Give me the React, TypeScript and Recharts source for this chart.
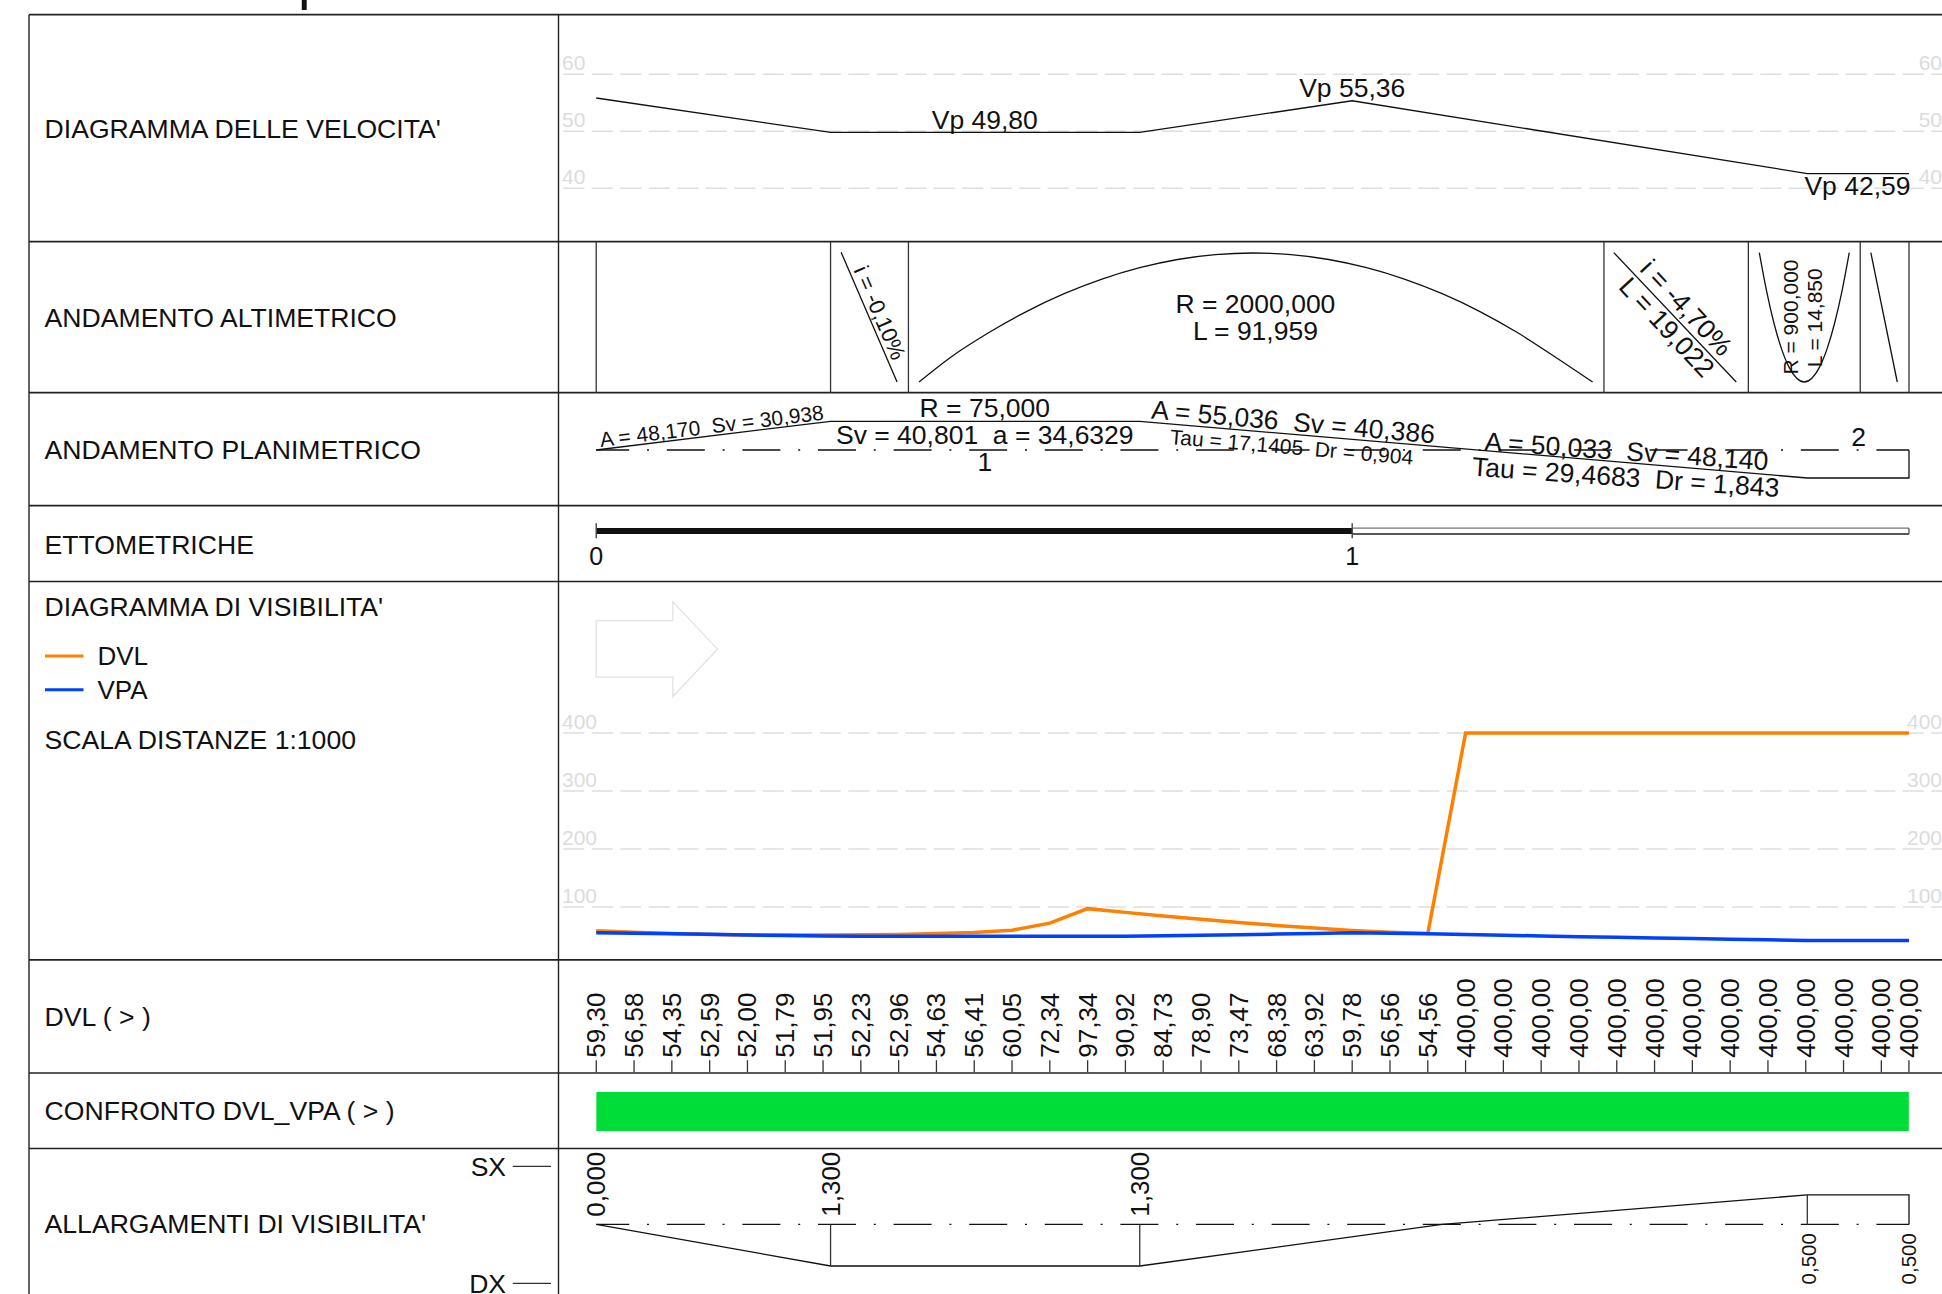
import React from "react";
import {
  Area,
  CartesianGrid,
  ComposedChart,
  Legend,
  Line,
  ReferenceDot,
  ReferenceLine,
  XAxis,
  YAxis,
} from "recharts";

const progressive = [0,5,10,15,20,25,30,35,40,45,50,55,60,65,70,75,80,85,90,95,100,105,110,115,120,125,130,135,140,145,150,155,160,165,170,173.65];
const dvlValues = [59.3,56.58,54.35,52.59,52,51.79,51.95,52.23,52.96,54.63,56.41,60.05,72.34,97.34,90.92,84.73,78.9,73.47,68.38,63.92,59.78,56.56,54.56,400,400,400,400,400,400,400,400,400,400,400,400,400];
const vpaValues = [56,55,54,53,52,51,50,49.8,49.8,49.8,49.8,49.8,49.8,49.8,49.8,50.5,51.5,52.5,53.5,54.5,56,55,54,52.8,51.5,50.3,49,47.9,46.8,45.8,44.7,43.7,42.6,42.6,42.6,42.6];
const dvlLabels = ["59,30","56,58","54,35","52,59","52,00","51,79","51,95","52,23","52,96","54,63","56,41","60,05","72,34","97,34","90,92","84,73","78,90","73,47","68,38","63,92","59,78","56,56","54,56","400,00","400,00","400,00","400,00","400,00","400,00","400,00","400,00","400,00","400,00","400,00","400,00","400,00"];
const confrontoValues = progressive.map(() => 1);
const legendNames = ["DVL", "VPA"];

const speedX = [0,31,71.9,100,160.2,173.65];
const speedV = [55.84,49.8,49.8,55.36,42.59,42.59];
const speedTicks = [40,50,60];
const visibilityTicks = [100,200,300,400];

const gradeBreaks = [0,31,41.3,133.3,152.4,167.2,173.65];
const gradeAX = [32.4,39.8];
const gradeAV = [140.7,11];
const crestX = [42.7,46.9,51.9,56.9,61.9,66.9,71.9,76.9,81.9,86.9,91.9,96.9,101.9,106.9,111.9,116.9,121.9,126.9,131.8];
const crestV = [11,35.8,60.2,81.4,99.3,113.9,125.3,133.5,138.4,140,138.4,133.5,125.3,113.9,99.3,81.4,60.2,35.8,11];
const gradeBX = [134.6,150.8];
const gradeBV = [140.4,11];
const sagX = [153.85,154.8,155.8,156.8,157.8,158.8,159.8,160.8,161.8,162.8,163.8,164.8,165.75];
const sagV = [140.4,102.4,69.5,43.9,25.6,14.7,11,14.7,25.6,43.9,69.5,102.4,140.4];
const gradeCX = [168.6,172.1];
const gradeCV = [140.4,11];

const planX = [0,31,71.9,160.2,173.65,173.65];
const planV = [56,84.7,84.7,28,28,56];
const axisX = [0,173.65];
const planAxisV = [56,56];

const hectoSolidX = [0,100];
const hectoOpenX = [100,173.65];
const hectoLabels = ["0","1"];

const widenX = [0,31,71.9,111.9,160.2,173.65,173.65];
const widenV = [70.1,28.5,28.5,70.1,99.6,99.6,70.1];
const widenAxisV = [70.1,70.1];

const arrowX = [0,10.14,10.14,16.04,10.14,10.14,0,0];
const arrowV = [593.8,593.8,626.2,544.7,463.1,496.5,496.5,593.8];

const rowTitles = ["DIAGRAMMA DELLE VELOCITA'","ANDAMENTO ALTIMETRICO","ANDAMENTO PLANIMETRICO","ETTOMETRICHE","DIAGRAMMA DI VISIBILITA'","SCALA DISTANZE 1:1000","DVL ( > )","CONFRONTO DVL_VPA ( > )","ALLARGAMENTI DI VISIBILITA'"];
const rowEdges = [14.7,241.7,392.7,505.7,581.5,959.8,1073,1148.5];
const columnEdges = [29,558.5];
const pageX = [0,1942];
const pageY = [0,1294];

const FONT = "'Liberation Sans', Arial, sans-serif";
const INK = "#111";
const GRID = "#dedede";
const ORANGE = "#ff8000";
const BLUE = "#0040ff";
const GREEN = "#00dd38";
const DASH_DOT = "38 17.8 2 17.8";
const zip = (xs: number[], vs: number[]) => xs.map((x, i) => ({ x, v: vs[i] }));

type NoteArgs = { x: number; y: number; text: string; size?: number; angle?: number; anchor?: string; central?: boolean; yAxisId?: string };
const note = ({ x, y, text, size = 26.5, angle = 0, anchor = "middle", central = false, yAxisId }: NoteArgs) => (
  <ReferenceDot
    key={`${text}-${x}-${y}`}
    x={x}
    y={y}
    r={0}
    ifOverflow="visible"
    {...(yAxisId ? { yAxisId } : {})}
    shape={(p: any) => (
      <text
        x={p.cx}
        y={p.cy}
        fontFamily={FONT}
        fontSize={size}
        fill={INK}
        textAnchor={anchor as any}
        dominantBaseline={central ? "central" : undefined}
        transform={angle ? `rotate(${angle} ${p.cx} ${p.cy})` : undefined}
        style={{ whiteSpace: "pre" }}
      >
        {text}
      </text>
    )}
  />
);

const trace = (key: string, xs: number[], vs: number[], extra: any = {}) => (
  <Line
    key={key}
    data={zip(xs, vs)}
    dataKey="v"
    stroke={INK}
    strokeWidth={1.3}
    dot={false}
    activeDot={false}
    isAnimationActive={false}
    legendType="none"
    {...extra}
  />
);

const xBase = { type: "number" as const, dataKey: "x", domain: [-4.9206, 178.082], allowDataOverflow: true };

const Strip = ({ top, height, y, xAxis, axes, children }: any) => (
  <div style={{ position: "absolute", left: 558.5, top, width: 1383.5, height }}>
    <ComposedChart width={1383.5} height={height} margin={{ top: 0, right: 0, bottom: 0, left: 0 }}>
      {xAxis ?? <XAxis {...xBase} hide />}
      {axes ?? <YAxis type="number" domain={y} hide allowDataOverflow />}
      {children}
    </ComposedChart>
  </div>
);

const scaleTick = (side: "left" | "right") => (p: any) => (
  <text
    x={side === "left" ? 3 : 1383}
    y={p.y - 4}
    fontFamily={FONT}
    fontSize={21}
    fill="#dcdcdc"
    textAnchor={side === "left" ? "start" : "end"}
  >
    {p.payload.value}
  </text>
);

const scaleAxes = (y: number[], ticks: number[]) => (
  <>
    <YAxis yAxisId="l" type="number" domain={y} ticks={ticks} interval={0} mirror width={1} axisLine={false} tickLine={false} allowDataOverflow tick={scaleTick("left")} />
    <YAxis yAxisId="r" orientation="right" type="number" domain={y} ticks={ticks} interval={0} mirror width={1} axisLine={false} tickLine={false} allowDataOverflow tick={scaleTick("right")} />
  </>
);

const DvlTick = (p: any) => {
  const i = progressive.indexOf(p.payload.value);
  return (
    <text
      x={p.x}
      y={p.y}
      fontFamily={FONT}
      fontSize={26}
      fill={INK}
      textAnchor="start"
      dominantBaseline="central"
      transform={`rotate(-90 ${p.x} ${p.y})`}
    >
      {dvlLabels[i]}
    </text>
  );
};

const LegendBody = ({ payload }: any) => (
  <svg width={220} height={70} style={{ overflow: "visible", display: "block" }}>
    {(payload ?? [])
      .filter((item: any) => legendNames.includes(item.value))
      .map((item: any, i: number) => (
        <g key={item.value} transform={`translate(0 ${14 + i * 33.7})`}>
          <line x1={0} x2={38.5} y1={0} y2={0} stroke={item.color} strokeWidth={3} />
          <text x={52.4} y={9.4} fontFamily={FONT} fontSize={26} fill={INK}>
            {item.value}
          </text>
        </g>
      ))}
  </svg>
);

export default function App() {
  return (
    <div style={{ position: "absolute", left: 0, top: 0, width: 1942, height: 1294, overflow: "hidden", background: "#fff" }}>
      <div style={{ position: "absolute", left: 0, top: 0 }}>
        <ComposedChart width={1942} height={1294} margin={{ top: 0, right: 0, bottom: 0, left: 0 }}>
          <XAxis type="number" dataKey="x" domain={pageX} hide allowDataOverflow />
          <YAxis type="number" domain={pageY} reversed hide allowDataOverflow />
          {trace("page", pageX, pageY, { stroke: "none" })}
          {rowEdges.map((e) => (
            <ReferenceLine key={`r${e}`} segment={[{ x: 29, y: e }, { x: 1942, y: e }]} stroke="#222" strokeWidth={1.7} ifOverflow="visible" />
          ))}
          {columnEdges.map((e) => (
            <ReferenceLine key={`c${e}`} segment={[{ x: e, y: 14.7 }, { x: e, y: 1294 }]} stroke="#222" strokeWidth={1.4} ifOverflow="visible" />
          ))}
          <ReferenceLine segment={[{ x: 512.7, y: 1166.3 }, { x: 551, y: 1166.3 }]} stroke="#333" strokeWidth={1.3} ifOverflow="visible" />
          <ReferenceLine segment={[{ x: 512.7, y: 1283.3 }, { x: 551, y: 1283.3 }]} stroke="#333" strokeWidth={1.3} ifOverflow="visible" />
          {note({ x: 298, y: -2.3, text: "p", size: 56, anchor: "start" })}
          {note({ x: 44.6, y: 138.3, text: rowTitles[0], anchor: "start", size: 26.6 })}
          {note({ x: 44.6, y: 326.7, text: rowTitles[1], anchor: "start", size: 26.6 })}
          {note({ x: 44.6, y: 459.3, text: rowTitles[2], anchor: "start", size: 26.6 })}
          {note({ x: 44.6, y: 554, text: rowTitles[3], anchor: "start", size: 26.6 })}
          {note({ x: 44.6, y: 616, text: rowTitles[4], anchor: "start", size: 26.6 })}
          {note({ x: 44.6, y: 749, text: rowTitles[5], anchor: "start", size: 26.6 })}
          {note({ x: 44.6, y: 1026, text: rowTitles[6], anchor: "start", size: 26.6 })}
          {note({ x: 44.6, y: 1120, text: rowTitles[7], anchor: "start", size: 26.6 })}
          {note({ x: 44.6, y: 1233, text: rowTitles[8], anchor: "start", size: 26.6 })}
          {note({ x: 506, y: 1175.6, text: "SX", anchor: "end" })}
          {note({ x: 506, y: 1292.7, text: "DX", anchor: "end" })}
        </ComposedChart>
      </div>

      {/* Velocity diagram */}
      <Strip top={14.7} height={227} axes={scaleAxes([30.58, 70.4], speedTicks)}>
        <CartesianGrid yAxisId="l" vertical={false} syncWithTicks stroke={GRID} strokeWidth={1.5} strokeDasharray="21 7.5" strokeDashoffset={24.2} />
        {trace("speed", speedX, speedV, { yAxisId: "l" })}
        {note({ x: 51.4, y: 50.4, text: "Vp 49,80", yAxisId: "l" })}
        {note({ x: 100, y: 56.1, text: "Vp 55,36", yAxisId: "l" })}
        {note({ x: 173.85, y: 38.8, text: "Vp 42,59", anchor: "end", yAxisId: "l" })}
      </Strip>

      {/* Vertical alignment */}
      <Strip top={241.7} height={151} y={[0, 151]}>
        {gradeBreaks.map((b) => (
          <ReferenceLine key={b} x={b} stroke="#333" strokeWidth={1.3} />
        ))}
        {trace("gradeA", gradeAX, gradeAV)}
        {trace("crest", crestX, crestV, { type: "monotone" })}
        {trace("gradeB", gradeBX, gradeBV)}
        {trace("sag", sagX, sagV, { type: "monotone" })}
        {trace("gradeC", gradeCX, gradeCV)}
        {note({ x: 37.5, y: 80.2, text: "i = -0,10%", size: 22, angle: 66.8, central: true })}
        {note({ x: 87.2, y: 80, text: "R = 2000,000" })}
        {note({ x: 87.2, y: 52.7, text: "L = 91,959" })}
        {note({ x: 144.2, y: 85.2, text: "i = -4,70%", angle: 47, central: true })}
        {note({ x: 141.6, y: 65.7, text: "L = 19,022", angle: 47, central: true })}
        {note({ x: 158, y: 76, text: "R = 900,000", size: 21, angle: -90, central: true })}
        {note({ x: 161.1, y: 75.2, text: "L = 14,850", size: 21, angle: -90, central: true })}
      </Strip>

      {/* Horizontal alignment */}
      <Strip top={392.7} height={113} y={[0, 113]}>
        {trace("planAxis", axisX, planAxisV, { strokeDasharray: DASH_DOT, strokeDashoffset: 5 })}
        {trace("plan", planX, planV)}
        {note({ x: 15.4, y: 72.7, text: "A = 48,170  Sv = 30,938", size: 21, angle: -7 })}
        {note({ x: 51.4, y: 89, text: "R = 75,000" })}
        {note({ x: 51.4, y: 62.4, text: "Sv = 40,801  a = 34,6329" })}
        {note({ x: 51.4, y: 35, text: "1" })}
        {note({ x: 92.1, y: 75.1, text: "A = 55,036  Sv = 40,386", angle: 5 })}
        {note({ x: 91.9, y: 51.7, text: "Tau = 17,1405  Dr = 0,904", size: 21, angle: 4.9 })}
        {note({ x: 136.2, y: 45.7, text: "A = 50,033  Sv = 48,140", angle: 4 })}
        {note({ x: 136.1, y: 19.7, text: "Tau = 29,4683  Dr = 1,843", angle: 4 })}
        {note({ x: 167, y: 59.7, text: "2" })}
      </Strip>

      {/* Hectometres */}
      <Strip top={505.7} height={75.8} y={[0, 75.8]}>
        {trace("solid", hectoSolidX, [50.8, 50.8], { strokeWidth: 6 })}
        {trace("openTop", hectoOpenX, [53.6, 53.6], { stroke: "#777", strokeWidth: 1.2 })}
        {trace("openBottom", hectoOpenX, [47.8, 47.8], { stroke: "#222", strokeWidth: 1.6 })}
        {trace("openEnd", [173.65, 173.65], [47.8, 53.6], { stroke: "#444", strokeWidth: 1.2 })}
        {hectoSolidX.map((h) => (
          <ReferenceLine key={h} segment={[{ x: h, y: 43.5 }, { x: h, y: 58.5 }]} stroke="#444" strokeWidth={1.4} />
        ))}
        {hectoSolidX.map((h, i) => note({ x: h, y: 16.5, text: hectoLabels[i], size: 25 }))}
      </Strip>

      {/* Sight distance diagram */}
      <Strip top={581.5} height={378.3} axes={scaleAxes([8.3, 660.5], visibilityTicks)}>
        <CartesianGrid yAxisId="l" vertical={false} syncWithTicks stroke={GRID} strokeWidth={1.5} strokeDasharray="21 7.5" strokeDashoffset={24.2} />
        {trace("arrow", arrowX, arrowV, { yAxisId: "l", stroke: "#e2e2e2", strokeWidth: 1.3 })}
        {trace("dvl", progressive, dvlValues, { yAxisId: "l", name: "DVL", stroke: ORANGE, strokeWidth: 3.5, legendType: "line" })}
        {trace("vpa", progressive, vpaValues, { yAxisId: "l", name: "VPA", stroke: BLUE, strokeWidth: 3.5, legendType: "line" })}
        <Legend
          layout="vertical"
          align="center"
          verticalAlign="middle"
          content={LegendBody}
          wrapperStyle={{ position: "absolute", left: -513.9, top: 60, width: 220, height: 70 }}
        />
      </Strip>

      {/* Sight distance values */}
      <Strip
        top={959.8}
        height={113.2}
        y={[0, 1]}
        xAxis={
          <XAxis
            {...xBase}
            orientation="top"
            height={112.2}
            ticks={progressive}
            interval={0}
            axisLine={false}
            tickLine={{ stroke: "#333", strokeWidth: 1.3 }}
            tickSize={12}
            tickMargin={2.5}
            tick={DvlTick}
          />
        }
      />

      {/* Comparison band */}
      <Strip top={1091.8} height={38.9} y={[0, 1]}>
        <Area data={zip(progressive, confrontoValues)} dataKey="v" stroke="none" fill={GREEN} fillOpacity={1} dot={false} activeDot={false} isAnimationActive={false} legendType="none" />
      </Strip>

      {/* Sight widening */}
      <Strip top={1148.5} height={145.5} y={[0, 145.5]}>
        {trace("widenAxis", axisX, widenAxisV, { strokeDasharray: DASH_DOT, strokeDashoffset: 5 })}
        {trace("widen", widenX, widenV)}
        {trace("w1", [31, 31], [70.1, 28.5], { stroke: "#333" })}
        {trace("w2", [71.9, 71.9], [70.1, 28.5], { stroke: "#333" })}
        {trace("w3", [160.2, 160.2], [70.1, 99.6], { stroke: "#333" })}
        {note({ x: 0, y: 110.3, text: "0,000", size: 26, angle: -90, central: true })}
        {note({ x: 31, y: 110.3, text: "1,300", size: 26, angle: -90, central: true })}
        {note({ x: 71.9, y: 110.3, text: "1,300", size: 26, angle: -90, central: true })}
        {note({ x: 160.3, y: 35.7, text: "0,500", size: 20.5, angle: -90, central: true })}
        {note({ x: 173.65, y: 35.7, text: "0,500", size: 20.5, angle: -90, central: true })}
      </Strip>
    </div>
  );
}
